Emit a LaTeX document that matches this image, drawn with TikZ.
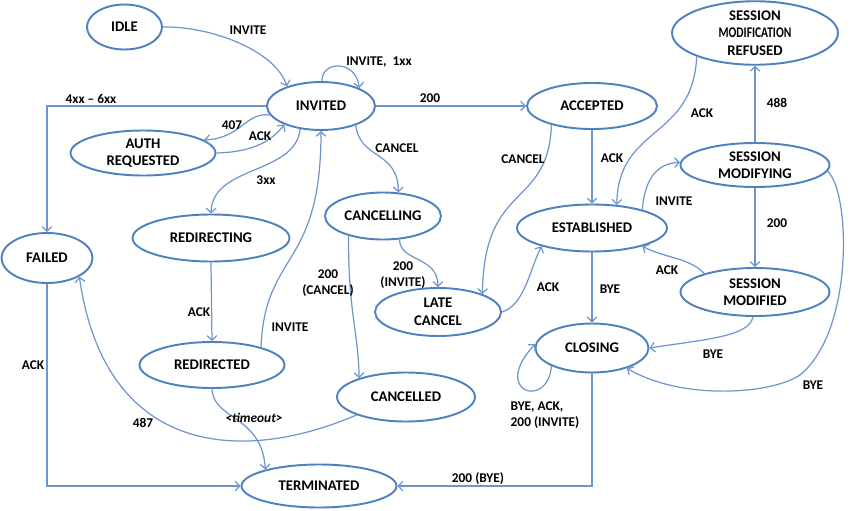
\documentclass[tikz,border=0pt]{standalone}
\usepackage{fontspec}
\setmainfont{Carlito}
\usetikzlibrary{%
  arrows.meta,%
  shapes.geometric% wg. ellipse
}
\definecolor{stateblue}{RGB}{79,129,189}
\definecolor{edgeblue}{RGB}{110,150,205}
\newcommand{\statefont}{\fontsize{8.4}{10}\selectfont\bfseries}
\newcommand{\lblfont}{\fontsize{7.6}{9}\selectfont\bfseries}

\begin{document}
\begin{tikzpicture}[
  x=0.02cm, y=-0.02cm,
  >={Straight Barb[length=2.6pt,width=5.5pt]},
  state/.style={ellipse, draw=stateblue, line width=1.1pt, inner sep=0pt, align=center, font=\statefont},
  trans/.style={->, draw=edgeblue, line width=0.7pt},
  lbl/.style={font=\lblfont, inner sep=0pt, align=center}
]
\useasboundingbox (0,0) rectangle (850,511);

% states
\node[state, minimum width=1.5cm, minimum height=0.9cm] (idle) at (124.5,27) {IDLE};
\node[state, minimum width=2.16cm, minimum height=0.96cm] (invited) at (321,106) {INVITED};
\node[state, minimum width=2.9cm, minimum height=0.9cm] (auth) at (143,153) {AUTH\\REQUESTED};
\node[state, minimum width=2.6cm, minimum height=0.92cm] (accepted) at (592,106) {ACCEPTED};
\node[state, minimum width=3.32cm, minimum height=1.18cm] (smr) at (755,33)
  {SESSION\\\scalebox{0.78}[1]{MODIFICATION}\\REFUSED};
\node[state, minimum width=2.98cm, minimum height=0.88cm] (smodifying) at (755,165) {SESSION\\MODIFYING};
\node[state, minimum width=2.32cm, minimum height=0.94cm] (cancelling) at (383,216) {CANCELLING};
\node[state, minimum width=3.14cm, minimum height=0.94cm] (redirecting) at (211,238) {REDIRECTING};
\node[state, minimum width=1.82cm, minimum height=1cm] (failed) at (47,258) {FAILED};
\node[state, minimum width=3cm, minimum height=0.94cm] (established) at (592,228) {ESTABLISHED};
\node[state, minimum width=2.98cm, minimum height=0.96cm] (smodified) at (755,292) {SESSION\\MODIFIED};
\node[state, minimum width=2.52cm, minimum height=0.96cm] (latecancel) at (438,312) {LATE\\CANCEL};
\node[state, minimum width=2.26cm, minimum height=0.98cm] (closing) at (592,348) {CLOSING};
\node[state, minimum width=2.9cm, minimum height=0.92cm] (redirected) at (212,365) {REDIRECTED};
\node[state, minimum width=2.76cm, minimum height=0.98cm] (cancelled) at (406,397) {CANCELLED};
\node[state, minimum width=3.1cm, minimum height=0.86cm] (terminated) at (319,486) {TERMINATED};

\coordinate (bend) at (800,375);

% transitions
\draw[trans] (idle.east) .. controls (210,26) and (275,50) .. (invited.150);
\draw[trans] (invited.88) .. controls (322,60) and (356,60) .. (invited.25);
\draw[trans] (invited.west) -| (failed.north);
\draw[trans] (invited.east) -- (accepted.west);
\draw[trans] (invited.190) .. controls (245,112) and (242,138) .. (auth.12);
\draw[trans] (auth.east) .. controls (255,152) and (272,140) .. (invited.207);
\draw[trans] (invited.228) .. controls (295,175) and (212,165) .. (redirecting.north);
\draw[trans] (invited.331) .. controls (360,160) and (398,150) .. (cancelling.57);
\draw[trans] (redirected.20) .. controls (265,250) and (321,270) .. (invited.south);
\draw[trans] (redirecting.south) -- (redirected.north);
\draw[trans] (cancelling.305) .. controls (400,262) and (438,256) .. (latecancel.north);
\draw[trans] (cancelling.210) .. controls (348,310) and (358,330) .. (cancelled.158);
\draw[trans] (cancelled.200) .. controls (240,465) and (105,455) .. (failed.330);
\draw[trans] (redirected.south) .. controls (213,420) and (262,415) .. (terminated.163);
\draw[trans] (failed.south) |- (terminated.west);
\draw[trans] (closing.south) |- (terminated.east);
\draw[trans] (accepted.south) -- (established.north);
\draw[trans] (accepted.205) .. controls (548,210) and (484,180) .. (latecancel.22);
\draw[trans] (latecancel.east) .. controls (525,305) and (530,268) .. (established.200);
\draw[trans] (established.south) -- (closing.north);
\draw[trans] (closing.204) .. controls (548,410) and (490,392) .. (closing.176);
\draw[trans] (smr.202) .. controls (693,140) and (618,125) .. (established.43);
\draw[trans] (smodifying.north) -- (smr.south);
\draw[trans] (established.20) .. controls (645,175) and (660,163) .. (smodifying.178);
\draw[trans] (smodifying.south) -- (smodified.north);
\draw[trans] (smodified.160) .. controls (690,258) and (665,258) .. (established.340);
\draw[trans] (smodified.265) .. controls (750,337) and (700,340) .. (closing.east);
\draw[trans] (smodifying.355) .. controls (850,190) and (855,330) .. (bend)
  .. controls (770,395) and (680,400) .. (closing.330);

% labels
\node[lbl] (tInvite) at (248,30) {INVITE};
\node[lbl] (tLoop) at (379,62) {INVITE,\ \ 1xx};
\node[lbl] (tFail) at (91,99) {4xx -- 6xx};
\node[lbl] (tOk) at (430,98) {200};
\node[lbl] (tAuth) at (232,125) {407};
\node[lbl] (tAckAuth) at (260,136) {ACK};
\node[lbl] (tRedir) at (266,180) {3xx};
\node[lbl] (tCancel) at (397,148) {CANCEL};
\node[lbl] (tAckRedir) at (199,312) {ACK};
\node[lbl] (tInviteRedir) at (290,327) {INVITE};
\node[lbl] (tOkCancel) at (328,283) {200\\(CANCEL)};
\node[lbl] (tOkInvite) at (403,275) {200\\(INVITE)};
\node[lbl] (tBusy) at (143,423) {487};
\node[lbl] (tTimeout) at (254,418) {\textit{<timeout>}};
\node[lbl] (tAckFail) at (33,365) {ACK};
\node[lbl] (tOkBye) at (478,479) {200 (BYE)};
\node[lbl] (tAckAcc) at (612,158) {ACK};
\node[lbl] (tCancelAcc) at (523,159) {CANCEL};
\node[lbl] (tAckLate) at (548,287) {ACK};
\node[lbl] (tByeEst) at (610,289) {BYE};
\node[lbl, align=left] (tLoopClose) at (545,415) {BYE, ACK,\\200 (INVITE)};
\node[lbl] (tAckRef) at (702,113) {ACK};
\node[lbl] (tRefuse) at (777,103) {488};
\node[lbl] (tInviteEst) at (674,201) {INVITE};
\node[lbl] (tOkMod) at (777,223) {200};
\node[lbl] (tAckMod) at (667,270) {ACK};
\node[lbl] (tByeMod) at (713,354) {BYE};
\node[lbl] (tByeRight) at (813,385) {BYE};
\end{tikzpicture}
\end{document}
